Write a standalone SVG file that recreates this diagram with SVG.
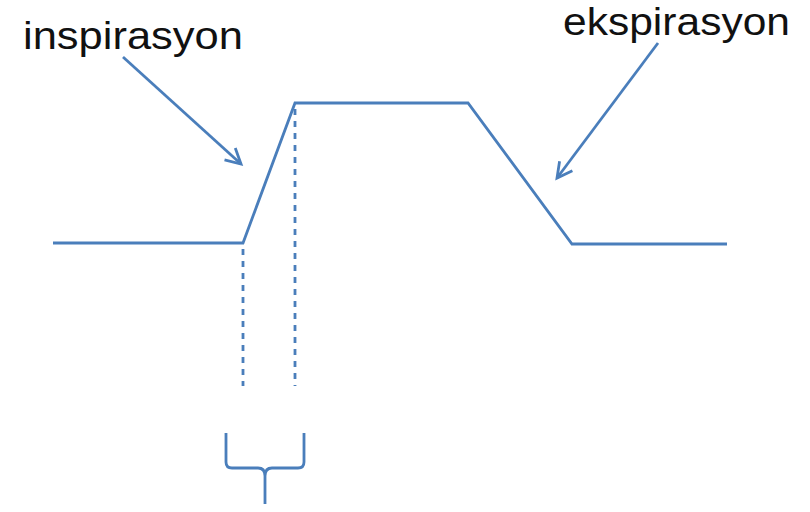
<svg xmlns="http://www.w3.org/2000/svg" width="810" height="512" viewBox="0 0 810 512">
<defs>
<style>
.ln{fill:none;stroke:#4A7EBB;stroke-width:2.8;stroke-linejoin:miter}
.dash{fill:none;stroke:#4A7EBB;stroke-width:2.8;stroke-dasharray:6 6}
.lbl{font-family:"Liberation Sans",Arial,sans-serif;font-size:38px;fill:#111111}
</style>
<marker id="ah" viewBox="0 0 20 20" refX="17" refY="10" markerWidth="20" markerHeight="20" markerUnits="userSpaceOnUse" orient="auto">
<path d="M2,2 L17,10 L2,18" fill="none" stroke="#4A7EBB" stroke-width="2.8"/>
</marker>
</defs>
<rect width="810" height="512" fill="#ffffff"/>
<g id="curve">
<polyline class="ln" points="53,243 243,243 295,103 468,103 572,244 727,244"/>
</g>
<g id="guides">
<line class="dash" x1="243" y1="249" x2="243" y2="386"/>
<line class="dash" x1="295" y1="109" x2="295" y2="386"/>
</g>
<g id="brace">
<path class="ln" d="M226,433 V462 Q226,468 232,468 H258 Q265,468 265,476 V504 M265,476 Q265,468 272,468 H298 Q304,468 304,462 V433"/>
</g>
<g id="inspirasyon">
<text class="lbl" x="23" y="49" textLength="220" lengthAdjust="spacingAndGlyphs">inspirasyon</text>
</g>
<g id="ekspirasyon">
<text class="lbl" x="563" y="35" textLength="227" lengthAdjust="spacingAndGlyphs">ekspirasyon</text>
</g>
<g id="connectors">
<line class="ln" x1="123" y1="57" x2="241" y2="164" marker-end="url(#ah)"/>
<line class="ln" x1="658" y1="43" x2="557" y2="178" marker-end="url(#ah)"/>
</g>
</svg>
